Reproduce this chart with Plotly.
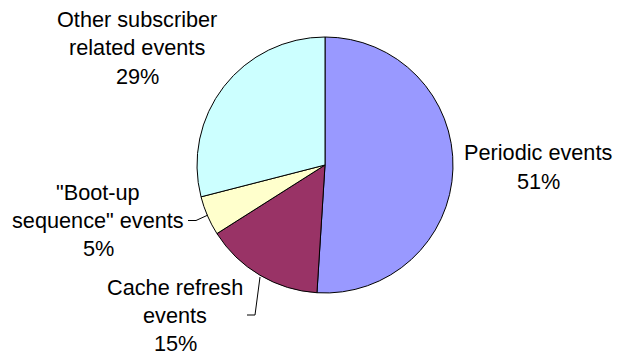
import plotly.graph_objects as go

# Share of events by type
categories = ["Periodic events", "Cache refresh events", "\"Boot-up sequence\" events", "Other subscriber related events"]
shares = [51, 15, 5, 29]
colors = ["#9999FF", "#993366", "#FFFFCC", "#CCFFFF"]

# Label lines for each slice (text lines, line-centre positions in px)
label_lines = [
    (["Periodic events", "51%"], 538, [152, 181]),
    (["Cache refresh", "events", "15%"], 175, [287, 315, 343]),
    (["\"Boot-up", "sequence\" events", "5%"], 98, [192, 220, 248]),
    (["Other subscriber", "related events", "29%"], 137, [19, 47.5, 76]),
]

W, H = 617, 356
cx, cy, r = 325, 165, 128

fig = go.Figure()
fig.add_trace(go.Pie(
    labels=categories,
    values=shares,
    sort=False,
    direction="clockwise",
    rotation=0,
    textinfo="none",
    hoverinfo="label+percent",
    marker=dict(colors=colors, line=dict(color="black", width=1)),
    domain=dict(x=[(cx - r) / W, (cx + r) / W], y=[1 - (cy + r) / H, 1 - (cy - r) / H]),
    showlegend=False,
))

annotations = []
for lines, x, ys in label_lines:
    for txt, y in zip(lines, ys):
        annotations.append(dict(
            x=x, y=y, xref="x", yref="y", text=txt, showarrow=False,
            xanchor="center", yanchor="middle",
            font=dict(family="Liberation Sans, Arial, sans-serif", size=21.7, color="black"),
        ))

# Leader lines for the two small slices
leaders = [
    "M 188 220.5 L 196 220.5 L 208 215",
    "M 247 315 L 255 315 L 260 277",
]
shapes = [dict(type="path", path=p, xref="x", yref="y", line=dict(color="black", width=1)) for p in leaders]

fig.update_layout(
    width=W, height=H,
    margin=dict(l=0, r=0, t=0, b=0),
    paper_bgcolor="white", plot_bgcolor="rgba(0,0,0,0)",
    xaxis=dict(range=[0, W], visible=False, fixedrange=True),
    yaxis=dict(range=[H, 0], visible=False, fixedrange=True),
    annotations=annotations,
    shapes=shapes,
)

fig.write_html("out.html")
